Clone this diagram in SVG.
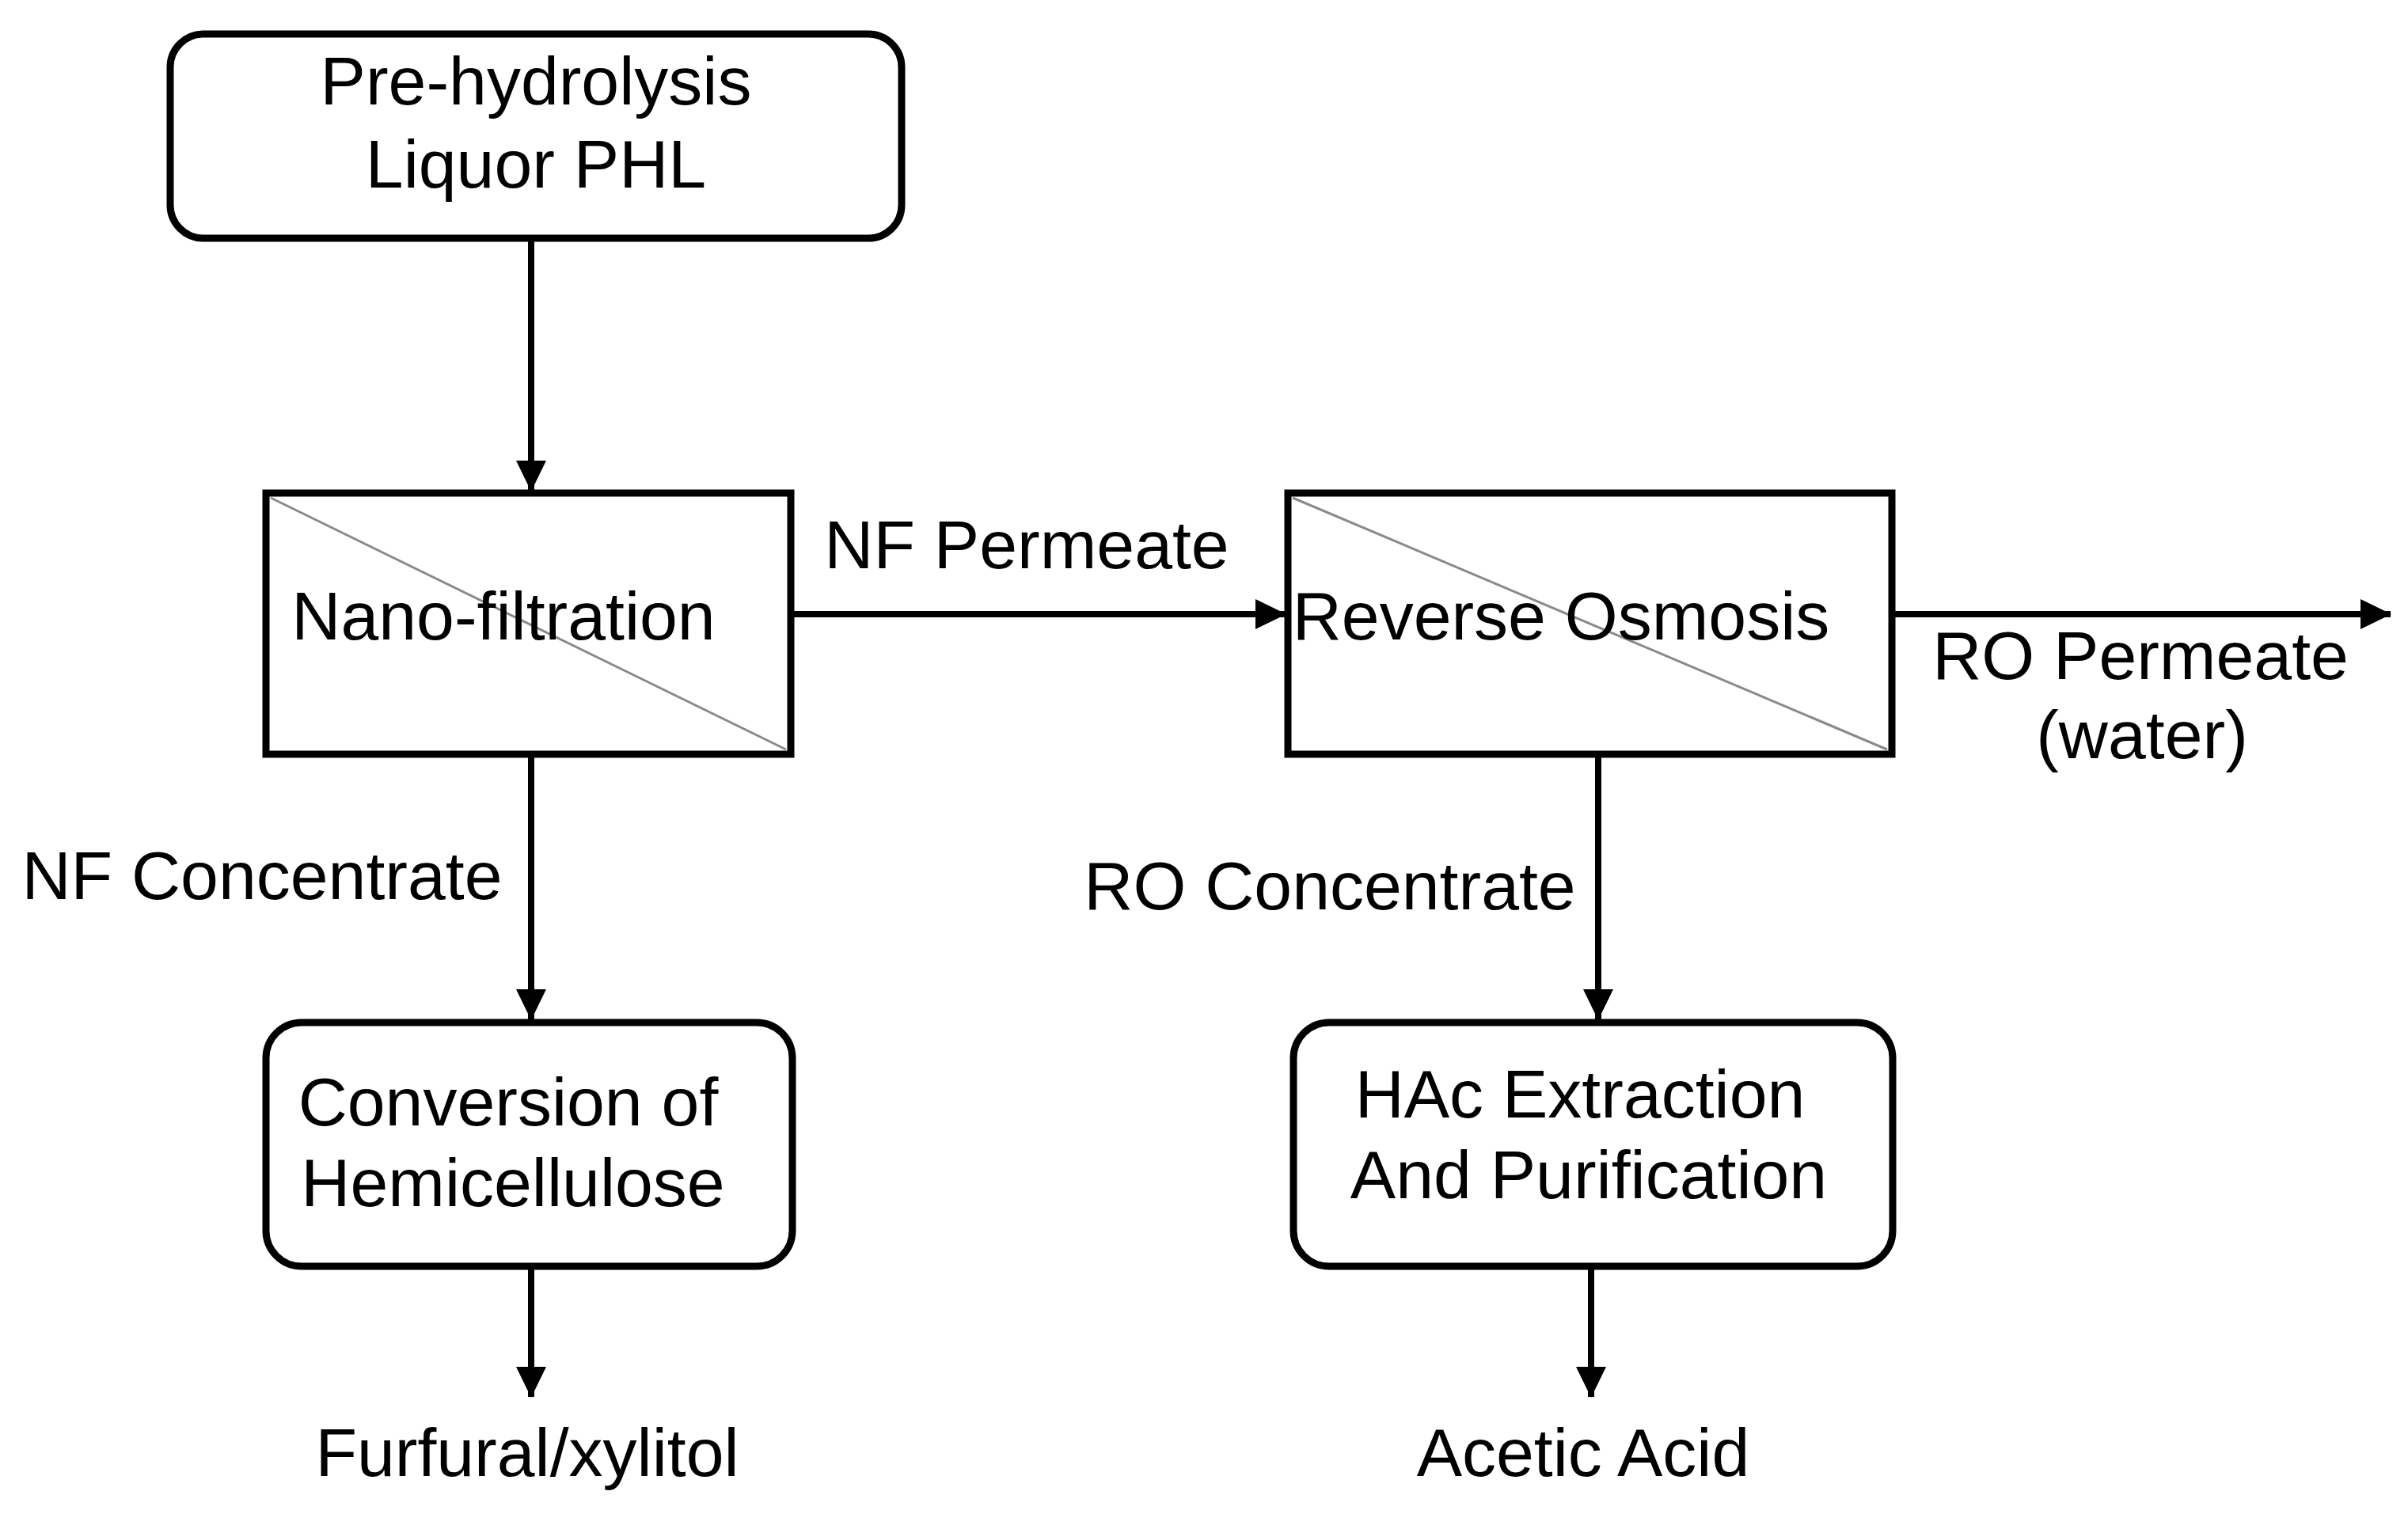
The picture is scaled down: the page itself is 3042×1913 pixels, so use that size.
<svg xmlns="http://www.w3.org/2000/svg" width="3042" height="1913" viewBox="0 0 3042 1913">
<style>
.box{fill:#fff;stroke:#000;stroke-width:9}
.diag{stroke:#8a8a8a;stroke-width:3;fill:none}
.t{font-family:"Liberation Sans",Arial,sans-serif;font-size:86px;fill:#000;text-anchor:middle}
.c{stroke:#000;stroke-width:8;fill:none;marker-end:url(#ah)}
</style>
<defs>
<marker id="ah" markerUnits="userSpaceOnUse" markerWidth="40" markerHeight="40" viewBox="0 0 40 40" refX="38" refY="20" orient="auto">
<path d="M0,1 L39,20 L0,39 Z" fill="#000"/>
</marker>
</defs>
<rect width="3042" height="1913" fill="#fff"/>
<g id="connectors">
<line class="c" x1="671" y1="301" x2="671" y2="620"/>
<line class="c" x1="999" y1="776" x2="1624" y2="776"/>
<line class="c" x1="671" y1="955" x2="671" y2="1288"/>
<line class="c" x1="2019" y1="955" x2="2019" y2="1288"/>
<line class="c" x1="2390" y1="776" x2="3020" y2="776"/>
<line class="c" x1="671" y1="1600" x2="671" y2="1765"/>
<line class="c" x1="2010" y1="1600" x2="2010" y2="1765"/>
<text class="t" x="1297" y="718">NF Permeate</text>
<text class="t" x="331" y="1136">NF Concentrate</text>
<text class="t" x="1680" y="1149">RO Concentrate</text>
<text class="t" x="2704" y="858">RO Permeate</text>
<text class="t" x="2706" y="958">(water)</text>
</g>
<g id="phl">
<rect class="box" x="215" y="43" width="924" height="258" rx="42"/>
<text class="t" x="677" y="132">Pre-hydrolysis</text>
<text class="t" x="677" y="237">Liquor PHL</text>
</g>
<g id="nanofiltration">
<rect class="box" x="336" y="623" width="663" height="330"/>
<line class="diag" x1="342" y1="629" x2="993" y2="947"/>
<text class="t" x="636" y="808">Nano-filtration</text>
</g>
<g id="reverse-osmosis">
<rect class="box" x="1627" y="623" width="763" height="330"/>
<line class="diag" x1="1633" y1="629" x2="2384" y2="947"/>
<text class="t" x="1972" y="808">Reverse Osmosis</text>
</g>
<g id="conversion">
<rect class="box" x="336" y="1292" width="665" height="308" rx="45"/>
<text class="t" x="642" y="1422">Conversion of</text>
<text class="t" x="648" y="1524">Hemicellulose</text>
</g>
<g id="hac">
<rect class="box" x="1634" y="1292" width="757" height="308" rx="45"/>
<text class="t" x="1996" y="1412">HAc Extraction</text>
<text class="t" x="2007" y="1514">And Purification</text>
</g>
<g id="furfural">
<text class="t" x="666" y="1865">Furfural/xylitol</text>
</g>
<g id="acetic">
<text class="t" x="2000" y="1865">Acetic Acid</text>
</g>
</svg>
